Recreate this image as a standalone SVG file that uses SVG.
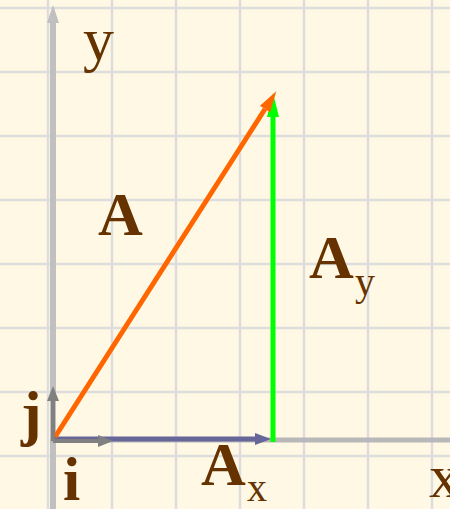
<svg xmlns="http://www.w3.org/2000/svg" width="450" height="509" viewBox="0 0 450 509">
<style>
.grid line{stroke:#dddddd;stroke-width:2.5}
.lbl{font-family:"Liberation Serif","Times New Roman",serif;fill:#663300;font-size:62px}
.b{font-weight:bold}
.sub{font-size:40px}
</style>
<defs>
<marker id="hOr" markerUnits="userSpaceOnUse" markerWidth="22" markerHeight="14" refX="0" refY="7" orient="auto" overflow="visible"><path d="M0,1 L21,7 L0,13 z" fill="#ff6600"/></marker>
<marker id="hGr" markerUnits="userSpaceOnUse" markerWidth="26" markerHeight="14" refX="0" refY="7" orient="auto" overflow="visible"><path d="M0,1 L24,7 L0,13 z" fill="#00ff00"/></marker>
<marker id="hBl" markerUnits="userSpaceOnUse" markerWidth="18" markerHeight="14" refX="0" refY="7" orient="auto" overflow="visible"><path d="M0,1 L16,7 L0,13 z" fill="#666699"/></marker>
<marker id="hGy" markerUnits="userSpaceOnUse" markerWidth="18" markerHeight="14" refX="0" refY="7" orient="auto" overflow="visible"><path d="M0,1 L15,7 L0,13 z" fill="#808080"/></marker>
<marker id="hAx" markerUnits="userSpaceOnUse" markerWidth="20" markerHeight="14" refX="0" refY="7" orient="auto" overflow="visible"><path d="M0,1 L18,7 L0,13 z" fill="#c0c0c0"/></marker>
</defs>
<rect width="450" height="509" fill="#fff8e4"/>
<g class="grid" id="grid">
<line x1="48" y1="0" x2="48" y2="509"/><line x1="112" y1="0" x2="112" y2="509"/><line x1="176" y1="0" x2="176" y2="509"/><line x1="240" y1="0" x2="240" y2="509"/><line x1="304" y1="0" x2="304" y2="509"/><line x1="368" y1="0" x2="368" y2="509"/><line x1="432" y1="0" x2="432" y2="509"/>
<line x1="0" y1="8" x2="450" y2="8"/><line x1="0" y1="72" x2="450" y2="72"/><line x1="0" y1="136" x2="450" y2="136"/><line x1="0" y1="200" x2="450" y2="200"/><line x1="0" y1="264" x2="450" y2="264"/><line x1="0" y1="328" x2="450" y2="328"/><line x1="0" y1="392" x2="450" y2="392"/><line x1="0" y1="456" x2="450" y2="456"/>
</g>
<g id="axes">
<line x1="53" y1="509" x2="53" y2="23" stroke="#c0c0c0" stroke-width="6" marker-end="url(#hAx)"/>
<line x1="50" y1="440" x2="450" y2="440" stroke="#b8b8b8" stroke-width="5"/>
</g>
<g id="connectors">
<line x1="53" y1="439" x2="255" y2="439" stroke="#666699" stroke-width="5" marker-end="url(#hBl)"/>
<line x1="273" y1="442" x2="273" y2="117" stroke="#00ff00" stroke-width="5" marker-end="url(#hGr)"/>
<line x1="55" y1="437" x2="265" y2="109" stroke="#ff6600" stroke-width="5" marker-end="url(#hOr)"/>
<line x1="53" y1="441" x2="53" y2="401" stroke="#808080" stroke-width="4" marker-end="url(#hGy)"/>
<line x1="53" y1="441" x2="98" y2="441" stroke="#808080" stroke-width="4" marker-end="url(#hGy)"/>
</g>
<g id="label-y"><text class="lbl" x="83" y="60">y</text></g>
<g id="label-x"><text class="lbl" x="429" y="497">x</text></g>
<g id="label-A"><text class="lbl b" x="98" y="235">A</text></g>
<g id="label-Ay"><text class="lbl b" x="309" y="278">A</text><text class="lbl sub" x="355" y="295">y</text></g>
<g id="label-Ax"><text class="lbl b" x="201" y="485">A</text><text class="lbl sub" x="247" y="501">x</text></g>
<g id="label-j"><text class="lbl b" x="21" y="434">j</text></g>
<g id="label-i"><text class="lbl b" x="63" y="500">i</text></g>
</svg>
